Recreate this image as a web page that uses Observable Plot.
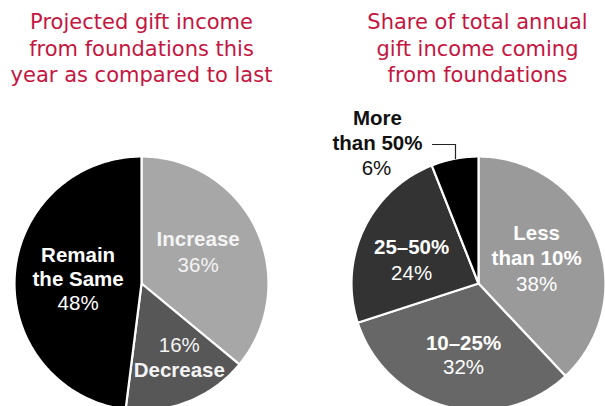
<!DOCTYPE html>
<html>
<head>
<meta charset="utf-8">
<script src="https://cdn.jsdelivr.net/npm/d3@7"></script>
<script src="https://cdn.jsdelivr.net/npm/@observablehq/plot@0.6"></script>
<style>
  html, body { margin: 0; padding: 0; background: #fff; }
  svg { display: block; }
</style>
</head>
<body>
<div id="chart"></div>
<script>
// ---- Data ----
const leftCategories = ["Increase", "Decrease", "Remain the Same"];
const leftValues = [36, 16, 48];
const rightCategories = ["Less than 10%", "10–25%", "25–50%", "More than 50%"];
const rightValues = [38, 32, 24, 6];
const leftTitle = ["Projected gift income", "from foundations this", "year as compared to last"];
const rightTitle = ["Share of total annual", "gift income coming", "from foundations"];

// ---- Layout (pixel-like coordinate space) ----
const W = 605, H = 406, R = 127;
const pies = [
  {id: "L", cx: 141, cy: 283, cats: leftCategories, vals: leftValues},
  {id: "R", cx: 478, cy: 283, cats: rightCategories, vals: rightValues}
];

const colorDomain = [...leftCategories.map(d => "L:" + d), ...rightCategories.map(d => "R:" + d)];
const colorRange = ["#a7a7a7", "#575757", "#000000", "#9a9a9a", "#676767", "#333333", "#000000"];

// Build slice polygons from d3.pie angles
const slicePts = [];
const arcsByPie = {};
for (const p of pies) {
  const arcs = d3.pie().sort(null).value(d => d.v)(p.cats.map((c, i) => ({c, v: p.vals[i]})));
  arcsByPie[p.id] = arcs;
  for (const a of arcs) {
    const key = p.id + ":" + a.data.c;
    slicePts.push({key, x: p.cx, y: p.cy});
    const n = Math.max(2, Math.ceil((a.endAngle - a.startAngle) / (Math.PI / 180)));
    for (let k = 0; k <= n; k++) {
      const t = a.startAngle + (a.endAngle - a.startAngle) * k / n;
      slicePts.push({key, x: p.cx + R * Math.sin(t), y: p.cy - R * Math.cos(t)});
    }
    slicePts.push({key, x: p.cx, y: p.cy});
  }
}

// Labels placed at angle-based positions inside each slice
function arcPoint(pid, i, frac, rf) {
  const p = pies.find(q => q.id === pid);
  const a = arcsByPie[pid][i];
  const t = a.startAngle + (a.endAngle - a.startAngle) * frac;
  return [p.cx + R * rf * Math.sin(t), p.cy - R * rf * Math.cos(t)];
}

const labels = [];
function addLabel(pid, i, frac, rf, lines, color, lh = 25) {
  const [x, y] = arcPoint(pid, i, frac, rf);
  const y0 = y - (lines.length - 1) * lh / 2;
  lines.forEach((l, j) => labels.push({x, y: y0 + j * lh, text: l.t, bold: l.b, color}));
}
const pct = v => v + "%";

// Left pie
addLabel("L", 0, 0.47, 0.51, [{t: "Increase", b: true}, {t: pct(leftValues[0])}], "#f4f4f4", 26);
addLabel("L", 1, 0.41, 0.66, [{t: pct(leftValues[1])}, {t: "Decrease", b: true}], "#f4f4f4");
addLabel("L", 2, 0.5, 0.5, [{t: "Remain", b: true}, {t: "the Same", b: true}, {t: pct(leftValues[2])}], "#ffffff", 24);
// Right pie
addLabel("R", 0, 0.488, 0.498, [{t: "Less", b: true}, {t: "than 10%", b: true}, {t: pct(rightValues[0])}], "#ffffff", 25.5);
addLabel("R", 1, 0.477, 0.579, [{t: "10–25%", b: true}, {t: pct(rightValues[1])}], "#ffffff", 24.5);
addLabel("R", 2, 0.428, 0.557, [{t: "25–50%", b: true}, {t: pct(rightValues[2])}], "#ffffff", 26);
// Outside label for the small slice
labels.push({x: 377, y: 118, text: "More", bold: true, color: "#111"});
labels.push({x: 377, y: 143, text: "than 50%", bold: true, color: "#111"});
labels.push({x: 376, y: 168, text: pct(rightValues[3]), bold: false, color: "#111"});

const boldLabels = labels.filter(d => d.bold);
const normLabels = labels.filter(d => !d.bold);

// Leader line for "More than 50%"
const leader = [{x: 432, y: 144}, {x: 455, y: 144}, {x: 455, y: 158}];

// Titles
const titleRows = [
  ...leftTitle.map((t, i) => ({x: 141, y: 22 + i * 26.5, t})),
  ...rightTitle.map((t, i) => ({x: 477, y: 22 + i * 26.5, t}))
];

const font = "'Liberation Sans', Arial, Helvetica, sans-serif";

const chart = Plot.plot({
  width: W,
  height: H,
  margin: 0,
  x: {domain: [0, W], axis: null},
  y: {domain: [H, 0], axis: null},
  color: {domain: colorDomain, range: colorRange},
  style: {fontFamily: font, background: "#fff"},
  marks: [
    Plot.line(slicePts, {x: "x", y: "y", z: "key", fill: "key", stroke: "#fff", strokeWidth: 2.2, strokeLinejoin: "round", curve: "linear"}),
    Plot.line(leader, {x: "x", y: "y", stroke: "#222", strokeWidth: 1.2}),
    Plot.text(boldLabels, {x: "x", y: "y", text: "text", fill: d => d.color, fontSize: 20.5, fontWeight: "bold", textAnchor: "middle", lineAnchor: "middle"}),
    Plot.text(normLabels, {x: "x", y: "y", text: "text", fill: d => d.color, fontSize: 20.5, textAnchor: "middle", lineAnchor: "middle"}),
    Plot.text(titleRows, {x: "x", y: "y", text: "t", fill: "#c4163f", fontSize: 21, fontFamily: "'DejaVu Sans', sans-serif", textAnchor: "middle", lineAnchor: "middle"})
  ]
});
document.getElementById("chart").appendChild(chart);
</script>
</body>
</html>
